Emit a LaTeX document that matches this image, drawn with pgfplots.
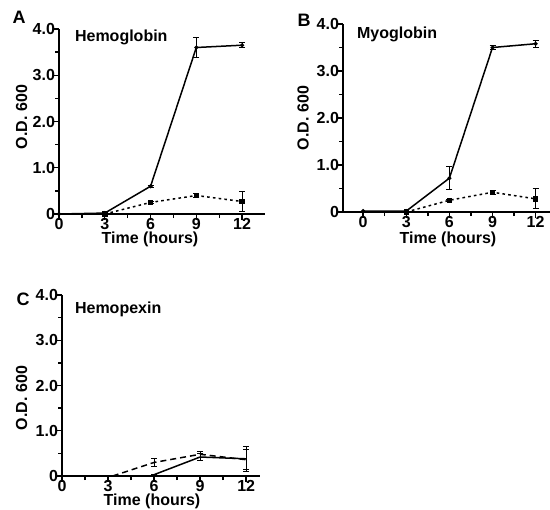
\documentclass[border=0pt]{standalone}
\usepackage{fontspec}
\setmainfont{Liberation Sans}
\usepackage{pgfplots}
\pgfplotsset{compat=1.18}

\pgfplotsset{
  panel/.style={
    scale only axis, clip=false,
    axis lines*=left,
    axis line style={line width=0.8pt,-},
    tick align=outside,
    tick style={line width=0.7pt,black},
    major tick length=3pt, minor tick length=2pt,
    ymin=0, ymax=4,
    ytick={0,1,2,3,4}, yticklabels={0,1.0,2.0,3.0,4.0},
    minor ytick={0.5,1.5,2.5,3.5},
    xtick={0,3,6,9,12}, minor xtick={1.5,4.5,7.5,10.5},
    /pgf/number format/assume math mode=true,
    ticklabel style={font=\fontsize{8}{9}\selectfont\bfseries},
    xticklabel style={yshift=4.5pt},
    yticklabel style={xshift=4.5pt},
  },
  ebars/.style={
    error bars/y dir=both, error bars/y explicit,
    error bars/error bar style={line width=0.5pt, solid},
    error bars/error mark options={rotate=90, mark size=1.5pt, line width=0.5pt, solid}},
  solidline/.style={black, line width=0.75pt, mark=*, mark size=0.6pt, ebars},
  dotline/.style={black, line width=0.75pt, dash pattern=on 1.3pt off 1.6pt,
    mark=square*, mark size=1pt, mark options={solid}, ebars},
  dashline/.style={black, line width=0.75pt, dash pattern=on 3pt off 2pt,
    mark=none, ebars},
}

\begin{document}
\begin{tikzpicture}
\useasboundingbox (0,0) rectangle (275pt,-254.5pt);
\def\lbl{\fontsize{8}{9}\selectfont\bfseries}
\def\ttl{\fontsize{9}{10}\selectfont\bfseries}

% Panel A: Hemoglobin
\begin{axis}[panel, at={(29.5pt,-107pt)}, anchor=south west,
  width=103pt, height=92.5pt, xmin=0, xmax=13.5]
\addplot[solidline] coordinates {
  (0,0) +- (0,0)
  (3,0.02) +- (0,0)
  (6,0.6) +- (0,0.02)
  (9,3.6) +- (0,0.22)
  (12,3.65) +- (0,0.06)
};
\addplot[dotline] coordinates {
  (3,0) +- (0,0)
  (6,0.25) +- (0,0.02)
  (9,0.4) +- (0,0.04)
  (12,0.27) +- (0,0.21)
};
\end{axis}

% Panel B: Myoglobin
\begin{axis}[panel, at={(171.5pt,-106pt)}, anchor=south west,
  width=103.5pt, height=94pt, xmin=-1.4, xmax=13]
\addplot[solidline] coordinates {
  (0,0.02) +- (0,0)
  (3,0.02) +- (0,0)
  (6,0.72) +- (0,0.25)
  (9,3.5) +- (0,0.05)
  (12,3.58) +- (0,0.07)
};
\addplot[dotline] coordinates {
  (3,0) +- (0,0)
  (6,0.25) +- (0,0.02)
  (9,0.42) +- (0,0.04)
  (12,0.28) +- (0,0.21)
};
\end{axis}

% Panel C: Hemopexin
\begin{axis}[panel, at={(31pt,-238pt)}, anchor=south west,
  width=99pt, height=90.5pt, xmin=0, xmax=12.9]
\addplot[solidline, mark=none] coordinates {
  (6,0.03) +- (0,0)
  (9,0.42) +- (0,0.07)
  (12,0.38) +- (0,0.28)
};
\addplot[dashline] coordinates {
  (3.3,0) +- (0,0)
  (6,0.3) +- (0,0.08)
  (9,0.48) +- (0,0.06)
  (12,0.36) +- (0,0.22)
};
\end{axis}

% panel letters and titles
\node[font=\ttl] at (9.5pt,-8.5pt) {A};
\node[font=\ttl] at (152pt,-10pt) {B};
\node[font=\ttl] at (11.5pt,-149.5pt) {C};
\node[font=\lbl, anchor=west] at (34pt,-18.5pt) {Hemoglobin};
\node[font=\lbl, anchor=west] at (175pt,-17pt) {Myoglobin};
\node[font=\lbl, anchor=west] at (34pt,-154.5pt) {Hemopexin};
% axis titles
\node[font=\lbl, rotate=90] at (10.75pt,-58.5pt) {O.D. 600};
\node[font=\lbl, rotate=90] at (151.5pt,-59pt) {O.D. 600};
\node[font=\lbl, rotate=90] at (10.75pt,-199pt) {O.D. 600};
\node[font=\lbl] at (75pt,-119.5pt) {Time (hours)};
\node[font=\lbl] at (224pt,-119.5pt) {Time (hours)};
\node[font=\lbl] at (76pt,-250.5pt) {Time (hours)};
\end{tikzpicture}
\end{document}
